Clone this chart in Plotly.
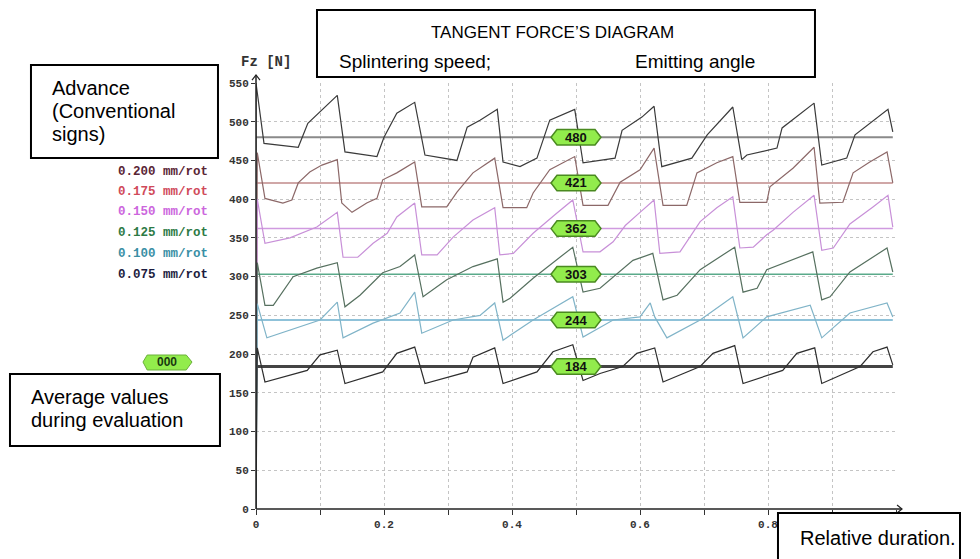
import plotly.graph_objects as go

# ---------------- data ----------------
feeds = ["0.200 mm/rot", "0.175 mm/rot", "0.150 mm/rot", "0.125 mm/rot", "0.100 mm/rot", "0.075 mm/rot"]
averages = [480, 421, 362, 303, 244, 184]

x_200 = [0, 0, 0.0125, 0.066, 0.081, 0.103, 0.127, 0.139, 0.189, 0.2, 0.22, 0.248, 0.264, 0.314, 0.33, 0.35,
         0.377, 0.386, 0.4125, 0.439, 0.459, 0.498, 0.511, 0.561, 0.572, 0.603, 0.622, 0.634, 0.681, 0.705,
         0.745, 0.759, 0.767, 0.814, 0.822, 0.872, 0.884, 0.923, 0.936, 0.9875, 0.995]
y_200 = [0, 550, 472, 467, 498, 515, 534, 461, 455, 480, 511, 525, 457, 450, 493, 502,
         516, 448, 442, 453, 502, 516, 447, 453, 489, 506, 520, 442, 453, 483,
         519, 451, 457, 466, 492, 524, 444, 453, 483, 516, 487]

x_175 = [0, 0.002, 0.014, 0.042, 0.056, 0.066, 0.084, 0.103, 0.127, 0.134, 0.15, 0.173, 0.189, 0.198, 0.22,
         0.248, 0.259, 0.298, 0.314, 0.339, 0.373, 0.386, 0.423, 0.433, 0.459, 0.498, 0.511, 0.55, 0.569,
         0.6, 0.622, 0.636, 0.673, 0.689, 0.72, 0.745, 0.756, 0.798, 0.803, 0.839, 0.872, 0.881, 0.917,
         0.933, 0.959, 0.986, 0.995]
y_175 = [0, 460, 401, 395, 399, 421, 435, 444, 451, 395, 383, 395, 401, 425, 434,
         448, 390, 390, 409, 434, 453, 389, 389, 408, 438, 455, 392, 392, 422,
         438, 466, 392, 392, 434, 447, 455, 396, 396, 416, 440, 467, 395, 396,
         434, 448, 461, 421]

x_150 = [0, 0.002, 0.014, 0.053, 0.095, 0.127, 0.136, 0.159, 0.183, 0.205, 0.22, 0.248, 0.259, 0.283, 0.308,
         0.339, 0.373, 0.381, 0.402, 0.433, 0.467, 0.495, 0.511, 0.5375, 0.558, 0.577, 0.6, 0.622, 0.631,
         0.6625, 0.694, 0.72, 0.745, 0.756, 0.777, 0.798, 0.808, 0.839, 0.872, 0.884, 0.902, 0.928, 0.964,
         0.9875, 0.995]
y_150 = [0, 400, 343, 350, 364, 383, 325, 325, 343, 356, 377, 395, 328, 328, 351,
         373, 389, 328, 330, 356, 380, 399, 332, 332, 345, 366, 383, 399, 330,
         332, 371, 389, 403, 337, 338, 354, 360, 383, 405, 334, 337, 368, 390,
         405, 364]

x_125 = [0, 0.002, 0.014, 0.027, 0.058, 0.095, 0.127, 0.139, 0.1625, 0.198, 0.225, 0.248, 0.261, 0.298, 0.339,
         0.377, 0.386, 0.397, 0.433, 0.467, 0.495, 0.511, 0.5375, 0.589, 0.62, 0.636, 0.658, 0.694, 0.748,
         0.761, 0.783, 0.798, 0.87, 0.884, 0.897, 0.928, 0.986, 0.995]
y_125 = [0, 318, 263, 263, 300, 311, 318, 261, 276, 305, 313, 328, 274, 296, 313,
         323, 267, 272, 298, 320, 338, 280, 285, 321, 330, 270, 276, 309, 338,
         280, 285, 309, 332, 270, 274, 306, 337, 306]

x_100 = [0, 0.002, 0.017, 0.053, 0.1, 0.127, 0.136, 0.183, 0.225, 0.248, 0.259, 0.308, 0.35, 0.373, 0.386,
         0.433, 0.495, 0.511, 0.558, 0.6, 0.616, 0.623, 0.642, 0.694, 0.745, 0.761, 0.798, 0.866, 0.884,
         0.928, 0.986, 0.995]
y_100 = [0, 265, 221, 231, 244, 267, 221, 240, 253, 280, 227, 244, 250, 266, 218,
         244, 274, 222, 244, 248, 266, 248, 221, 244, 274, 221, 248, 263, 221,
         253, 266, 248]

x_075 = [0, 0.002, 0.014, 0.08, 0.1, 0.127, 0.139, 0.198, 0.22, 0.248, 0.264, 0.33, 0.339, 0.373, 0.386,
         0.439, 0.464, 0.495, 0.511, 0.5375, 0.573, 0.595, 0.623, 0.636, 0.694, 0.714, 0.748, 0.761, 0.823,
         0.845, 0.873, 0.884, 0.944, 0.964, 0.986, 0.995]
y_075 = [0, 208, 164, 179, 199, 205, 162, 177, 201, 209, 162, 177, 196, 208, 162,
         177, 203, 212, 166, 175, 184, 201, 208, 164, 184, 201, 211, 162, 179,
         201, 208, 162, 184, 203, 209, 186]

series_x = [x_200, x_175, x_150, x_125, x_100, x_075]
series_y = [y_200, y_175, y_150, y_125, y_100, y_075]

x_tick_vals = [0, 0.1, 0.2, 0.3, 0.4, 0.5, 0.6, 0.7, 0.8, 0.9, 1.0]
x_tick_text = ["0", "", "0.2", "", "0.4", "", "0.6", "", "0.8", "", ""]
y_tick_vals = [0, 50, 100, 150, 200, 250, 300, 350, 400, 450, 500, 550]

# ---------------- styles ----------------
curve_colors = ["#3a3a3a", "#8c6868", "#c890d8", "#56705f", "#80b4c8", "#2e2e2e"]
avg_colors = ["#8a8a8a", "#c08a8a", "#d09ae0", "#5aaa8a", "#6aaecc", "#444444"]
avg_widths = [2, 1.5, 1.5, 1.5, 1.5, 3]
legend_colors = ["#5a2535", "#d04a5a", "#cc66dd", "#2d7a45", "#3a8fa5", "#1c1c40"]

fig = go.Figure()

for i in range(len(feeds)):
    fig.add_trace(go.Scatter(x=[0, 0.995], y=[averages[i], averages[i]], mode="lines",
                             line=dict(color=avg_colors[i], width=avg_widths[i]), hoverinfo="skip"))
for i in range(len(feeds)):
    fig.add_trace(go.Scatter(x=series_x[i], y=series_y[i], mode="lines", name=feeds[i],
                             line=dict(color=curve_colors[i], width=1.2)))

shapes = []
annotations = []

# average badges (hexagons) centered on the mid of the run
bx = 0.5
for i, v in enumerate(averages):
    path = (f"M {bx-0.039},{v} L {bx-0.0297},{v+10} L {bx+0.0297},{v+10} L {bx+0.039},{v} "
            f"L {bx+0.0297},{v-10} L {bx-0.0297},{v-10} Z")
    shapes.append(dict(type="path", path=path, xref="x", yref="y", fillcolor="#92ec4c",
                       line=dict(color="#4a8a20", width=1.5), layer="above"))
    annotations.append(dict(x=bx, y=v, xref="x", yref="y", text=f"<b>{v}</b>", showarrow=False,
                            xanchor="center", yanchor="middle",
                            font=dict(family="Liberation Sans", size=13, color="#111")))

# '000' badge on the left
shapes.append(dict(type="path", xref="paper", yref="paper",
                   path="M -0.1766,0.345 L -0.170,0.3615 L -0.109,0.3615 L -0.100,0.345 L -0.109,0.3263 L -0.170,0.3263 Z",
                   fillcolor="#92ec4c", line=dict(color="#6ab03a", width=1)))
annotations.append(dict(x=-0.139, y=0.345, xref="paper", yref="paper", text="<b>000</b>", showarrow=False,
                        xanchor="center", yanchor="middle",
                        font=dict(family="Liberation Sans", size=12, color="#1a3a10")))

# axis extensions with open arrow heads
shapes += [
    dict(type="line", xref="paper", yref="paper", x0=0, x1=1.0094, y0=0, y1=0, line=dict(color="#222", width=1.5)),
    dict(type="line", xref="paper", yref="paper", x0=0, x1=0, y0=0, y1=1.0188, line=dict(color="#222", width=1.5)),
    dict(type="path", xref="paper", yref="paper", path="M 1.0016,0.0094 L 1.0094,0 L 1.0016,-0.0094",
         line=dict(color="#222", width=1.2)),
    dict(type="path", xref="paper", yref="paper", path="M -0.00625,1.007 L 0,1.0188 L 0.00625,1.007",
         line=dict(color="#222", width=1.2)),
]

# white text boxes
boxes = [(-0.3516, -0.0594, 0.8239, 1.0423), (0.0953, 0.8734, 1.0141, 1.1715),
         (-0.3844, -0.0563, 0.1479, 0.3169), (0.8156, 1.10, -0.125, -0.0094)]
for x0, x1, y0, y1 in boxes:
    shapes.append(dict(type="rect", xref="paper", yref="paper", x0=x0, x1=x1, y0=y0, y1=y1,
                       fillcolor="white", line=dict(color="black", width=2), layer="above"))

box_font = dict(family="Liberation Sans", size=20, color="black")
for txt, yy in [("Advance", 0.934 + 0.054), ("(Conventional", 0.934), ("signs)", 0.934 - 0.054)]:
    annotations.append(dict(x=-0.3219, y=yy, xref="paper", yref="paper", text=txt, showarrow=False,
                            xanchor="left", yanchor="middle", font=box_font))
for txt, yy in [("Average values", 0.263), ("during evaluation", 0.209)]:
    annotations.append(dict(x=-0.3547, y=yy, xref="paper", yref="paper", text=txt, showarrow=False,
                            xanchor="left", yanchor="middle", font=box_font))
annotations.append(dict(x=0.8469, y=-0.068, xref="paper", yref="paper", text="Relative duration.",
                        showarrow=False, xanchor="left", yanchor="middle", font=box_font))
annotations.append(dict(x=0.464, y=1.1197, xref="paper", yref="paper", text="TANGENT FORCE\u2019S DIAGRAM",
                        showarrow=False, xanchor="center", yanchor="middle",
                        font=dict(family="Liberation Sans", size=17, color="black")))
annotations.append(dict(x=0.1266, y=1.0516, xref="paper", yref="paper", text="Splintering speed;",
                        showarrow=False, xanchor="left", yanchor="middle",
                        font=dict(family="Liberation Sans", size=19, color="black")))
annotations.append(dict(x=0.589, y=1.0516, xref="paper", yref="paper", text="Emitting angle",
                        showarrow=False, xanchor="left", yanchor="middle",
                        font=dict(family="Liberation Sans", size=19, color="black")))

# Fz [N]
annotations.append(dict(x=0.0156, y=1.049, xref="paper", yref="paper", text="Fz [N]", showarrow=False,
                        xanchor="center", yanchor="middle",
                        font=dict(family="Liberation Mono", size=14, color="#333", weight="bold")))

# feed legend
legend_y = [0.791, 0.744, 0.697, 0.648, 0.599, 0.549]
for i, f in enumerate(feeds):
    annotations.append(dict(x=-0.0719, y=legend_y[i], xref="paper", yref="paper", text=f, showarrow=False,
                            xanchor="right", yanchor="middle",
                            font=dict(family="Liberation Mono", size=12.5, color=legend_colors[i], weight="bold")))

tick_font = dict(family="Liberation Mono", size=11, color="#333", weight="bold")
# the page body adds an 8px offset; margins compensate so the plot sits at 256..896 x 83..509
fig.update_layout(
    width=980, height=559,
    margin=dict(l=248, r=92, t=75, b=58),
    plot_bgcolor="white", paper_bgcolor="white",
    showlegend=False,
    xaxis=dict(range=[0, 1.0], tickvals=x_tick_vals, ticktext=x_tick_text, showgrid=True,
               gridcolor="#c4c4c4", griddash="3px,3px", gridwidth=1, zeroline=False, showline=False,
               ticks="outside", ticklen=5, tickcolor="#333", tickfont=tick_font),
    yaxis=dict(range=[0, 550], tickvals=y_tick_vals, showgrid=True,
               gridcolor="#c4c4c4", griddash="3px,3px", gridwidth=1, zeroline=False, showline=False,
               ticks="outside", ticklen=4, tickcolor="#333", tickfont=tick_font),
    shapes=shapes, annotations=annotations,
)

fig.write_html("out.html")
